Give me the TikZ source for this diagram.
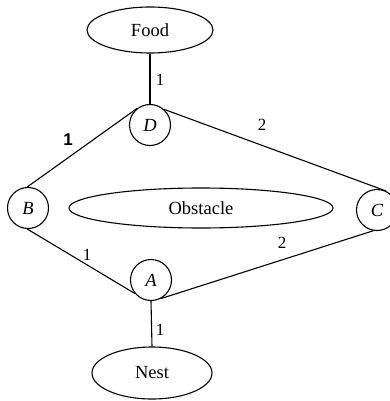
\documentclass[tikz,border=0pt]{standalone}
\usepackage{fontspec}
\setmainfont{Liberation Serif}
\newfontfamily\boldsans{Liberation Sans}
\usetikzlibrary{shapes.geometric}
\tikzset{
  spot/.style={draw, circle, line width=1.1pt, minimum size=41pt, inner sep=0pt, font=\fontsize{18.5}{21}\selectfont\itshape},
  place/.style={draw, ellipse, line width=1.1pt, inner sep=0pt, font=\fontsize{18.5}{21}\selectfont},
  cost/.style={font=\fontsize{17}{20}\selectfont, inner sep=0pt},
  path/.style={line width=1.1pt}
}
\begin{document}
\begin{tikzpicture}[x=1pt, y=-1pt]
\useasboundingbox (0,0) rectangle (390,401);
\node[place, minimum width=126pt, minimum height=46pt] (food) at (150,30) {Food};
\node[spot] (d) at (150,125) {D};
\node[spot] (b) at (28,208) {B};
\node[spot] (c) at (377,210) {C};
\node[place, minimum width=264pt, minimum height=40pt] (obstacle) at (201,208) {Obstacle};
\node[spot] (a) at (151,280) {A};
\node[place, minimum width=120pt, minimum height=52pt] (nest) at (152,373) {Nest};
\draw[path] (food.south) -- (d.north);
\draw[path] (b.92) -- (d.128);
\draw[path] (d.48) -- (c.65);
\draw[path] (b.268) -- (a.220);
\draw[path] (a.-62) -- (c.-100);
\draw[path] (a.south) -- (nest.north);
% edge costs
\node[cost] (l1) at (160,80) {1};
\node[cost, font=\fontsize{17}{20}\boldsans\bfseries] (l2) at (68,140) {1};
\node[cost] (l3) at (262,125) {2};
\node[cost] (l4) at (87,255) {1};
\node[cost] (l5) at (282,243) {2};
\node[cost] (l6) at (160,330) {1};
\end{tikzpicture}
\end{document}
